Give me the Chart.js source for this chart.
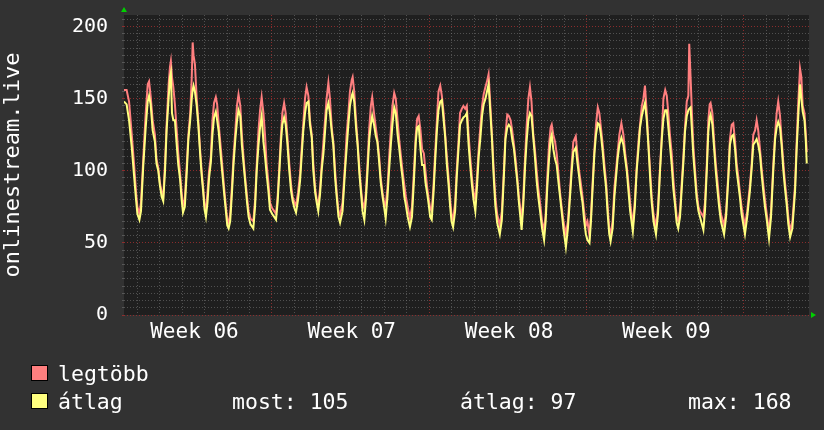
<!DOCTYPE html>
<html><head><meta charset="utf-8">
<script src="https://cdn.jsdelivr.net/npm/chart.js@4"></script>
<style>
html,body{margin:0;padding:0;background:#323232;}
#wrap{position:relative;width:824px;height:430px;overflow:hidden;}
#c{position:absolute;left:0;top:0;}
.lg{position:absolute;font-family:'DejaVu Sans Mono',monospace;font-size:21.5px;color:#fff;line-height:24px;white-space:pre;}
.box{position:absolute;width:15px;height:14px;border:1px solid #000;}
</style></head>
<body><div id="wrap"><canvas id="c" width="824" height="430"></canvas>
<div class="box" style="left:31px;top:365px;background:#ff7f7f"></div>
<div class="lg" style="left:58px;top:361.5px">legtöbb</div>
<div class="box" style="left:31px;top:393px;background:#ffff7f"></div>
<div class="lg" style="left:58px;top:389.5px">átlag</div>
<div class="lg" style="left:232px;top:389.5px">most: 105</div>
<div class="lg" style="left:460px;top:389.5px">átlag: 97</div>
<div class="lg" style="left:688px;top:389.5px">max: 168</div>
</div>
<script>
// time in days since start of Week 06
const days = [
0.41,0.53,0.64,0.76,0.86,0.95,1.01,1.10,
1.17,1.27,1.38,1.47,1.53,1.60,1.69,1.79,1.86,1.94,2.01,2.09,2.16,
2.24,2.31,2.40,2.46,2.50,2.55,2.61,2.68,2.76,2.83,2.91,2.98,3.04,
3.12,3.21,3.28,3.36,3.43,3.47,3.51,3.57,3.65,3.72,3.80,3.87,3.94,4.00,4.06,
4.13,4.20,4.28,4.35,4.42,4.50,4.56,4.63,4.71,4.78,4.86,4.93,5.01,5.07,
5.14,5.22,5.29,5.37,5.44,5.51,5.59,5.66,5.74,5.81,5.89,5.96,6.04,6.17,
6.25,6.32,6.40,6.47,6.54,6.62,6.69,6.76,6.84,6.91,7.01,7.10,7.18,
7.25,7.33,7.40,7.46,7.54,7.61,7.68,7.77,7.85,7.92,8.00,8.07,
8.16,8.25,8.32,8.39,8.47,8.54,8.62,8.69,8.77,8.84,8.92,8.99,9.06,
9.14,9.21,9.29,9.36,9.43,9.51,9.58,9.66,9.73,9.81,9.88,9.96,10.03,
10.14,10.25,10.32,10.40,10.47,10.55,10.59,10.66,10.74,10.81,10.89,10.96,11.03,11.11,
11.18,11.26,11.33,11.40,11.46,11.54,11.62,11.69,11.77,11.84,11.92,11.99,12.06,
12.14,12.21,12.29,12.36,12.44,12.51,12.59,12.66,12.74,12.81,12.89,12.96,13.04,13.14,
13.23,13.32,13.40,13.46,13.53,13.61,13.68,13.76,13.83,13.91,13.98,14.04,14.11,
14.19,14.26,14.34,14.41,14.49,14.56,14.64,14.71,14.78,14.86,14.93,14.99,15.06,
15.15,15.22,15.30,15.37,15.45,15.52,15.60,15.67,15.75,15.82,15.90,15.97,16.05,
16.12,16.20,16.27,16.35,16.42,16.50,16.57,16.64,16.72,16.79,16.87,16.94,17.02,17.14,
17.23,17.32,17.39,17.47,17.54,17.62,17.69,17.77,17.84,17.92,17.99,18.11,
18.18,18.26,18.33,18.41,18.48,18.55,18.63,18.70,18.78,18.85,18.93,19.02,19.11,
19.18,19.25,19.33,19.40,19.45,19.52,19.60,19.67,19.75,19.82,19.89,19.97,20.08,
20.17,20.26,20.34,20.41,20.52,20.59,20.67,20.74,20.82,20.89,20.97,21.04,21.13,
21.20,21.27,21.35,21.42,21.50,21.57,21.64,21.72,21.79,21.87,21.94,22.01,22.07,
22.16,22.24,22.31,22.38,22.46,22.55,22.64,22.72,22.79,22.87,22.94,23.06,
23.15,23.23,23.31,23.38,23.46,23.53,23.60,23.68,23.75,23.83,23.90,23.98,24.09,
24.18,24.27,24.35,24.42,24.50,24.57,24.64,24.71,24.79,24.86,24.94,25.01,25.08,
25.16,25.23,25.31,25.38,25.46,25.53,25.57,25.63,25.69,25.75,25.83,25.90,25.98,26.05,26.20,
26.27,26.35,26.42,26.48,26.52,26.60,26.68,26.75,26.83,26.90,26.98,27.12,
27.21,27.31,27.38,27.46,27.53,27.61,27.68,27.76,27.83,27.90,28.05,
28.15,28.27,28.35,28.42,28.50,28.57,28.64,28.72,28.79,28.87,28.94,29.02,29.12,
29.21,29.31,29.39,29.46,29.53,29.61,29.68,29.76,29.83,29.91,29.98,30.06,
30.16,30.28,30.35,30.43,30.50,30.56,30.62,30.70,30.76,30.80
];
// "legtöbb" (maximum)
const maxValues = [
156,156,148,125,105,85,75,70,
78,108,140,160,162,152,135,125,108,102,92,85,82,
105,132,160,172,176,165,158,146,128,112,98,85,76,
80,105,125,140,165,189,180,174,150,135,115,100,88,76,72,
85,100,110,135,147,151,146,132,118,105,90,78,66,64,
70,90,110,128,145,153,145,125,108,95,82,72,67,65,
80,104,128,142,151,140,125,105,92,78,74,72,70,
82,104,125,140,147,140,125,105,90,82,78,76,
85,98,115,132,150,158,152,135,125,105,88,80,76,
88,104,120,135,150,161,150,130,120,100,85,72,69,
78,104,125,140,155,163,165,155,135,120,102,88,78,74,
85,108,130,145,151,140,130,122,110,95,85,78,76,
88,108,128,145,154,150,135,122,110,100,90,82,75,67,
75,100,125,136,138,128,115,112,100,88,80,74,72,
90,112,135,155,159,152,140,125,110,95,80,70,66,
78,100,120,140,143,145,143,145,125,110,95,85,80,
95,115,130,145,153,158,162,167,145,125,100,82,70,62,
72,100,125,139,138,135,128,118,108,95,82,66,
80,108,130,150,158,148,125,115,100,88,78,65,58,
70,95,118,130,132,125,120,112,98,85,75,65,56,
65,85,105,120,124,112,100,92,82,72,62,65,55,
70,92,115,132,144,140,130,118,105,92,75,60,55,
65,88,100,112,125,133,125,112,103,90,78,62,
80,102,120,132,145,150,159,140,120,100,82,70,61,
75,102,125,150,156,152,140,125,112,95,80,68,65,
72,90,110,130,148,152,188,165,140,118,100,85,75,72,68,
78,104,135,146,147,140,120,105,92,80,70,62,
72,98,122,132,133,120,105,95,84,75,62,
72,90,105,125,128,135,128,115,102,90,80,70,58,
72,104,125,140,148,138,122,105,92,80,68,58,
65,90,120,150,171,165,145,140,125,113
];
// "átlag" (average)
const avgValues = [
148,146,135,116,97,80,70,66,
72,103,130,148,152,146,128,120,105,100,90,82,79,
100,128,150,165,168,140,135,135,118,104,94,80,71,
75,100,122,135,150,156,159,155,145,132,112,97,85,73,68,
78,95,106,125,137,141,135,127,112,100,86,75,62,60,
65,85,105,122,134,142,138,118,104,92,78,68,63,60,
76,100,118,130,138,120,110,98,86,73,70,68,66,
78,100,120,132,137,132,120,100,86,79,74,71,
80,93,110,127,140,147,148,132,123,100,85,78,72,
84,100,112,127,142,147,140,127,118,95,82,68,64,
72,100,115,132,145,152,154,148,130,118,98,85,72,66,
80,102,122,132,138,132,124,120,106,92,82,75,67,
82,100,118,132,144,140,125,116,104,95,82,76,68,61,
68,94,120,130,131,115,104,104,92,84,76,68,66,
85,106,128,142,148,149,135,123,105,90,75,65,61,
72,95,115,132,135,137,138,140,118,104,90,80,72,
88,110,122,138,146,150,155,160,140,122,95,76,64,56,
66,96,122,130,132,130,122,115,104,92,78,59,
75,102,120,135,140,138,123,110,93,82,72,60,52,
65,88,108,122,125,115,108,104,92,82,72,60,47,
60,81,100,113,116,106,96,86,78,66,56,52,50,
66,88,112,125,133,132,125,113,100,88,70,56,51,
60,82,95,108,118,123,118,108,100,85,72,58,
75,100,115,130,138,143,147,135,118,95,78,65,56,
70,100,122,136,142,142,130,118,104,88,76,64,60,
68,86,106,127,138,142,143,144,128,111,95,81,72,68,59,
72,100,127,137,139,132,115,100,86,75,65,56,
68,95,118,124,125,115,100,90,81,70,56,
68,86,102,118,120,122,118,111,98,85,75,66,53,
68,100,122,130,134,130,118,100,88,76,63,54,
60,86,115,140,160,150,141,135,120,105
];
const weekLabels = ['Week 06','Week 07','Week 08','Week 09'];
const weekCenters = [3.55,10.55,17.55,24.55];
const yLabelTicks = [0,50,100,150,200];

const X_MIN = 0.414, X_MAX = 30.9, Y_MAX = 208;
const FONT = "'DejaVu Sans Mono', monospace";
const MINOR = 'rgba(120,120,120,0.55)';
const MAJOR = 'rgba(150,45,45,0.9)';

const xTickValues = [];
for (let d = 1; d <= 30; d++) xTickValues.push(d);
weekCenters.forEach(v => xTickValues.push(v));
xTickValues.sort((a,b)=>a-b);
const yTickValues = [];
for (let v = 0; v <= 205; v += 5) yTickValues.push(v);

const n = Math.min(days.length, maxValues.length, avgValues.length);
const maxPts = [], avgPts = [];
for (let i = 0; i < n; i++) { maxPts.push({x:days[i], y:maxValues[i]}); avgPts.push({x:days[i], y:avgValues[i]}); }

const decor = {
  id:'decor',
  beforeDraw(chart){
    const {ctx, chartArea:a} = chart;
    ctx.save();
    ctx.fillStyle = '#1f1f1f';
    ctx.fillRect(a.left, a.top, a.right-a.left, a.bottom-a.top);
    ctx.restore();
  },
  afterDraw(chart){
    const {ctx, chartArea:a} = chart;
    ctx.save();
    ctx.fillStyle = '#00d000';
    ctx.beginPath();
    ctx.moveTo(a.left-3, a.top-3); ctx.lineTo(a.left+3, a.top-3); ctx.lineTo(a.left, a.top-8); ctx.closePath(); ctx.fill();
    ctx.beginPath();
    ctx.moveTo(a.right+2, a.bottom-3); ctx.lineTo(a.right+2, a.bottom+3); ctx.lineTo(a.right+7, a.bottom); ctx.closePath(); ctx.fill();
    ctx.restore();
  }
};

function noPad(s){ s.paddingTop = 0; s.paddingBottom = 0; s.paddingLeft = 0; s.paddingRight = 0; }

new Chart(document.getElementById('c'), {
  type:'line',
  data:{datasets:[
    {label:'átlag', data:avgPts, borderColor:'#ffff7f', borderWidth:2, pointRadius:0, tension:0, order:0},
    {label:'legtöbb', data:maxPts, borderColor:'#ff7f7f', borderWidth:2, pointRadius:0, tension:0, order:1}
  ]},
  options:{
    responsive:false, animation:false, events:[],
    layout:{padding:{left:0, top:15, right:15, bottom:0}, autoPadding:false},
    plugins:{legend:{display:false}, tooltip:{enabled:false}},
    scales:{
      x:{
        type:'linear', min:X_MIN, max:X_MAX,
        afterBuildTicks:s=>{ s.ticks = xTickValues.map(v=>({value:v})); },
        afterFit:s=>{ s.height = 115; noPad(s); },
        ticks:{autoSkip:false, maxRotation:0, minRotation:0, padding:5, color:'#ffffff',
          font:{family:FONT, size:21},
          callback:(v)=>{ const k = weekCenters.indexOf(v); return k>=0 ? weekLabels[k] : ''; }},
        grid:{drawTicks:false, lineWidth:1,
          color:c=>{ const v = c.tick ? c.tick.value : 0; if (!Number.isInteger(v)) return 'rgba(0,0,0,0)'; return v%7===0 ? MAJOR : MINOR; }},
        border:{display:false, dash:[1,2]}
      },
      y:{
        min:0, max:Y_MAX,
        afterBuildTicks:s=>{ s.ticks = yTickValues.map(v=>({value:v})); },
        afterFit:s=>{ s.width = 124; noPad(s); },
        ticks:{autoSkip:false, padding:14, color:'#ffffff', font:{family:FONT, size:20},
          callback:(v)=> yLabelTicks.includes(v) ? String(v) : ''},
        grid:{drawTicks:true, tickLength:2, lineWidth:1,
          color:c=>{ const v = c.tick ? c.tick.value : 0; return v%50===0 ? MAJOR : MINOR; },
          tickColor:c=>{ const v = c.tick ? c.tick.value : 0; return v%50===0 ? MAJOR : MINOR; }},
        border:{display:false, dash:[1,2]},
        title:{display:true, text:'onlinestream.live', color:'#ffffff', font:{family:FONT, size:22, lineHeight:1.1}, padding:{top:1,bottom:1}}
      }
    }
  },
  plugins:[decor]
});
</script>
</body></html>
